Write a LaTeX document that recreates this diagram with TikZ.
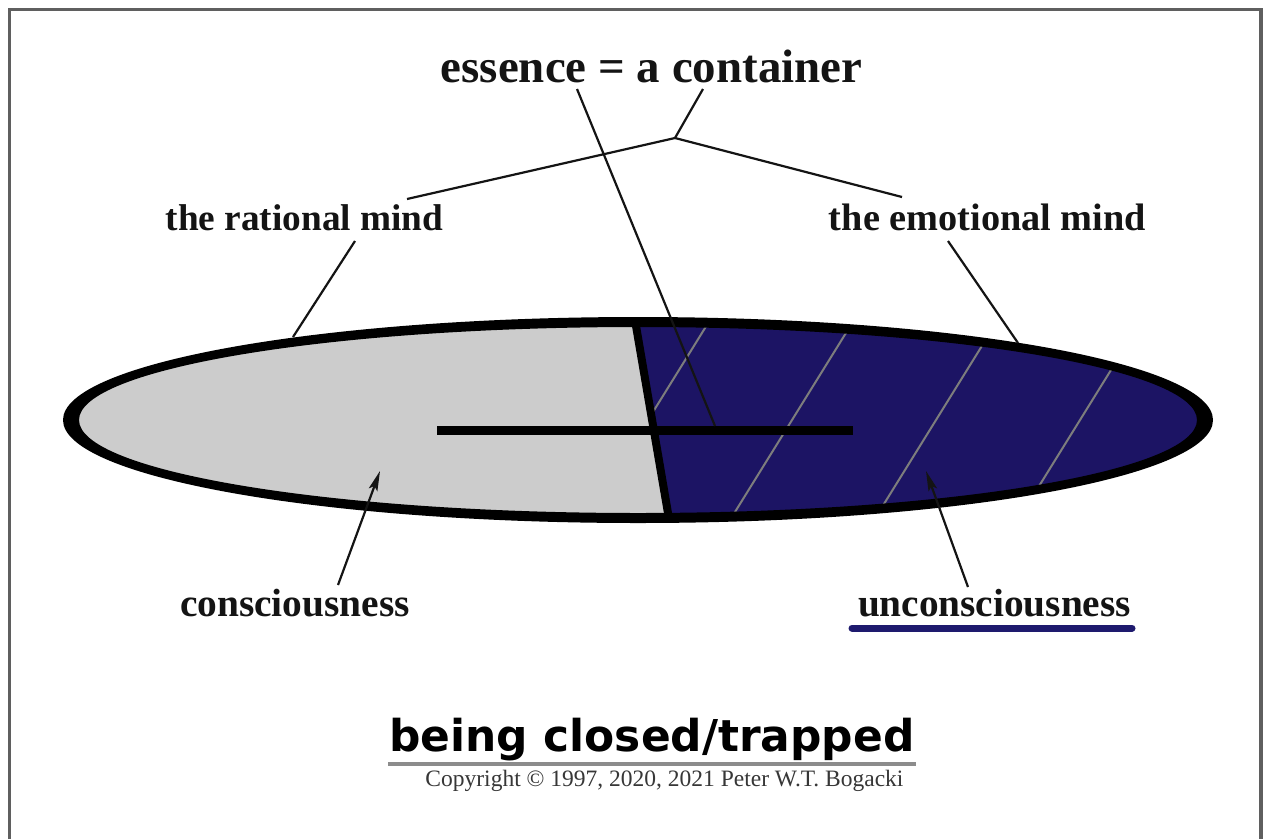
\documentclass[tikz,border=0pt]{standalone}
\usepackage{fontspec}
\setmainfont{Liberation Serif}
\newfontfamily\dejavusans{DejaVu Sans}
\usetikzlibrary{arrows.meta}
\definecolor{navy}{RGB}{28,20,100}
\definecolor{lgray}{RGB}{204,204,204}
\definecolor{hatchgray}{RGB}{125,125,125}
\definecolor{framegray}{RGB}{95,95,95}
\definecolor{ulnavy}{RGB}{30,26,110}
\definecolor{ulgray}{RGB}{140,140,140}
\definecolor{ink}{RGB}{20,20,20}
\begin{document}
\begin{tikzpicture}[x=1pt, y=-1pt,
  lbl/.style={font=\fontsize{38.5}{44}\selectfont\bfseries, text=ink, inner sep=0pt, anchor=base},
  leader/.style={draw=ink, line width=2.2pt},
  pointer/.style={leader, -{Stealth[length=20pt, width=9pt, inset=4pt]}},
  hatch/.style={draw=hatchgray, line width=2pt},
  thickbar/.style={draw=black, line width=9pt}]
\useasboundingbox (0,0) rectangle (1264,839);
\fill[white] (0,0) rectangle (1264,839);
% frame
\draw[framegray, line width=3.5pt] (9.5,839) -- (9.5,9.5) -- (1261,9.5) -- (1261,839);

% ellipse fills
\begin{scope}
  \clip (638,420) ellipse [x radius=566, y radius=98];
  \fill[lgray] (60,300) rectangle (1220,540);
  \fill[navy] (632,300) -- (1220,300) -- (1220,540) -- (672.4,540) -- cycle;
  \clip (632,300) -- (1220,300) -- (1220,540) -- (672.4,540) -- cycle;
  \foreach \xo in {648,792,936,1080}{
    \draw[hatch] (\xo+74.4,300) -- (\xo-74.4,540);
  }
\end{scope}
% outline (thicker at the ends)
\fill[black, even odd rule] (638,420) ellipse [x radius=575, y radius=103]
                             (638,420) ellipse [x radius=559, y radius=93];
% divider and bar
\coordinate (divT) at (635,320);
\coordinate (divB) at (669,519);
\draw[black, line width=8pt] (divT) -- (divB);
\coordinate (barL) at (437,430);
\coordinate (barR) at (853,430);
\draw[thickbar] (barL) -- (barR);

% labels
\node[lbl, font=\fontsize{46.9}{52}\selectfont\bfseries] (ess) at (651.5,82) {essence = a container};
\node[lbl, font=\fontsize{37.3}{44}\selectfont\bfseries] (rat) at (304.5,230) {the rational mind};
\node[lbl, font=\fontsize{38.3}{44}\selectfont\bfseries] (emo) at (987.5,230) {the emotional mind};
\node[lbl, font=\fontsize{39.4}{44}\selectfont\bfseries] (con) at (295,616) {consciousness};
\node[lbl, font=\fontsize{39.3}{44}\selectfont\bfseries] (unc) at (994.5,616) {unconsciousness};
\node[anchor=base, inner sep=0pt, text=black, font=\dejavusans\bfseries\fontsize{43.9}{50}\selectfont] (title) at (652,751) {being closed/trapped};
\node[anchor=base, inner sep=0pt, text=ink!85, font=\fontsize{23.5}{28}\selectfont] (copy) at (664.5,786) {Copyright © 1997, 2020, 2021 Peter W.T. Bogacki};

% underlines
\draw[ulnavy, line width=7pt, line cap=round] (852,628) -- (1132,628);
\draw[ulgray, line width=4.5pt] (388,764) -- (916,764);

% leader lines
\coordinate (essA) at (577,89);
\coordinate (essB) at (715,426);
\coordinate (contA) at (703,89);
\coordinate (junc) at (675,138);
\coordinate (ratA) at (407,199);
\coordinate (emoA) at (902,197);
\coordinate (ratB) at (355,241);
\coordinate (ratC) at (293,337);
\coordinate (emoB) at (948,241);
\coordinate (emoC) at (1018,343);
\coordinate (conT) at (338,585);
\coordinate (conH) at (380,471);
\coordinate (uncT) at (968,587);
\coordinate (uncH) at (926,471);

\draw[leader] (essA) -- (essB);
\draw[leader] (contA) -- (junc);
\draw[leader] (junc) -- (ratA);
\draw[leader] (junc) -- (emoA);
\draw[leader] (ratB) -- (ratC);
\draw[leader] (emoB) -- (emoC);
\draw[pointer] (conT) -- (conH);
\draw[pointer] (uncT) -- (uncH);
\end{tikzpicture}
\end{document}
